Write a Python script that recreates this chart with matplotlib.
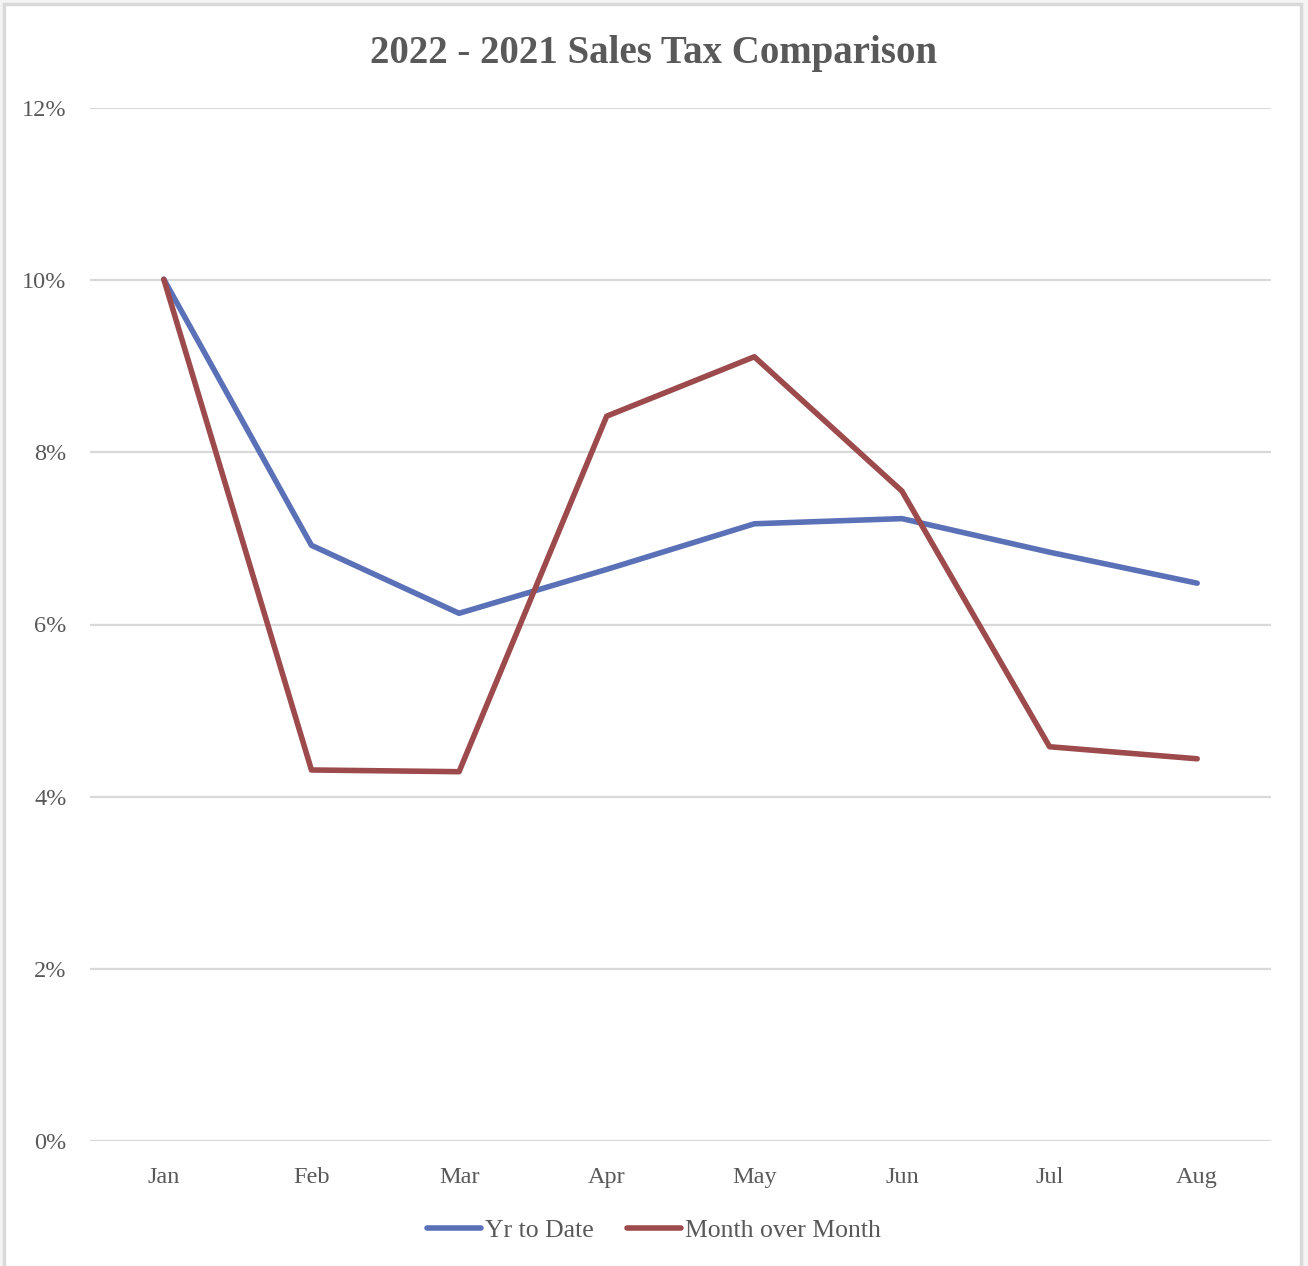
import matplotlib
matplotlib.use("Agg")
import matplotlib.pyplot as plt
from matplotlib.patches import Rectangle
from matplotlib.ticker import FuncFormatter

months = ["Jan", "Feb", "Mar", "Apr", "May", "Jun", "Jul", "Aug"]
yr_to_date = [10.01, 6.92, 6.13, 6.64, 7.17, 7.23, 6.84, 6.48]
month_over_month = [10.01, 4.31, 4.29, 8.42, 9.11, 7.55, 4.58, 4.44]
y_ticks = [0, 2, 4, 6, 8, 10, 12]

text_color = "#595959"
grid_color = "#d9d9d9"
blue = "#5b71b7"
red = "#9c4a4b"

plt.rcParams["font.family"] = ["Liberation Serif", "DejaVu Serif"]

fig = plt.figure(figsize=(13.08, 12.66), dpi=100)
fig.patch.set_facecolor("#f4f4f4")

# white chart area with a light grey frame
fig.patches.append(Rectangle((4 / 1308, -0.01), 1297 / 1308, 1 - 4 / 1266 + 0.01,
                             transform=fig.transFigure, facecolor="white",
                             edgecolor=grid_color, linewidth=2.5, zorder=-5))

ax = fig.add_axes([90 / 1308, 1 - 1141 / 1266, (1271 - 90) / 1308, (1141 - 108) / 1266])
ax.set_facecolor("none")

x = list(range(len(months)))
ax.plot(x, yr_to_date, color=blue, linewidth=4.0, solid_capstyle="round",
        solid_joinstyle="round", label="Yr to Date", zorder=3)
ax.plot(x, month_over_month, color=red, linewidth=4.0, solid_capstyle="round",
        solid_joinstyle="round", label="Month over Month", zorder=3)

ax.set_xlim(-0.5, len(months) - 0.5)
ax.set_ylim(0, 12)
ax.set_yticks(y_ticks)
ax.yaxis.set_major_formatter(FuncFormatter(lambda v, p: f"{v:.0f}%"))
ax.set_xticks(x)
ax.set_xticklabels(months)

ax.grid(axis="y", color=grid_color, linewidth=1.6)
ax.set_axisbelow(True)
for side in ["top", "right", "left", "bottom"]:
    ax.spines[side].set_visible(False)
ax.tick_params(axis="both", length=0, labelsize=17.5, colors=text_color)
ax.tick_params(axis="y", pad=17)
ax.tick_params(axis="x", pad=19)

fig.text(0.5, 1 - 54 / 1266, "2022 - 2021 Sales Tax Comparison", ha="center", va="center",
         fontsize=28, fontweight="bold", color=text_color)

leg = fig.legend(loc="center", bbox_to_anchor=(0.5, 1 - 1231 / 1266), ncol=2, frameon=False,
                 fontsize=18.5, handlelength=2.1, handletextpad=0.15, columnspacing=1.3)
for t in leg.get_texts():
    t.set_color(text_color)

fig.savefig("out.png", dpi=100, facecolor=fig.get_facecolor())
